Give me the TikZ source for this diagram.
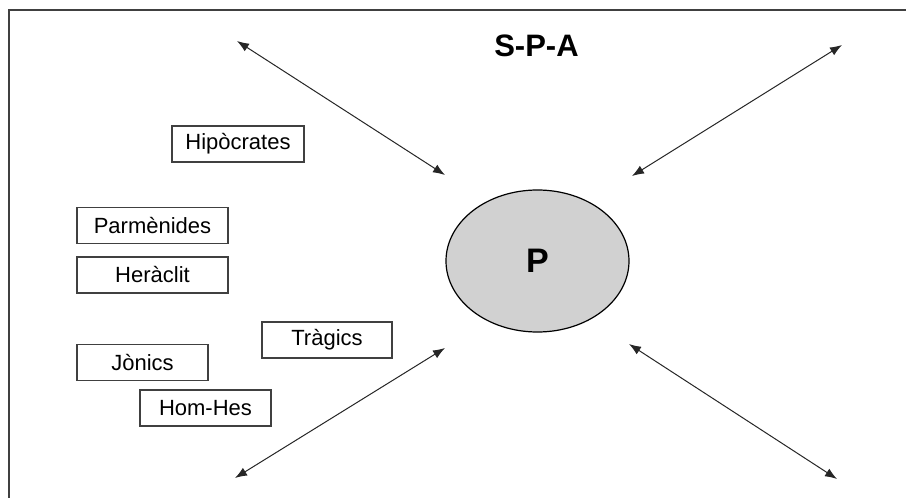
\documentclass[tikz,border=0pt]{standalone}
\usepackage{fontspec}
\setmainfont{Liberation Sans}
\usetikzlibrary{shapes.geometric,arrows.meta}

\begin{document}
\begin{tikzpicture}[x=0.5pt, y=-0.5pt,
    philbox/.style={draw=black!75, line width=0.6pt, minimum height=18pt, inner sep=0pt,
                    font=\fontsize{11}{13}\selectfont},
    bigtext/.style={font=\bfseries\fontsize{17}{20}\selectfont},
    twoway/.style={{Latex[length=6pt,width=4.5pt]}-{Latex[length=6pt,width=4.5pt]},
                   line width=0.5pt, black!85}]
    \useasboundingbox (0,0) rectangle (906,498);
    \draw[line width=1pt, black!75] (9,498) -- (9,10) -- (906,10);
    \node[bigtext, font=\bfseries\fontsize{15.5}{18}\selectfont] (title) at (536.5,46) {S-P-A};

    \node[ellipse, draw, line width=0.6pt, fill=black!18, minimum width=91.5pt, minimum height=71pt,
          inner sep=0pt, bigtext] (p) at (537.5,261) {P};

    % philosophers and poets
    \node[philbox, minimum width=66pt]   (hipocrates) at (238,144)   {Hipòcrates};
    \node[philbox, minimum width=75.5pt] (parmenides) at (152.5,225.5) {Parmènides};
    \node[philbox, minimum width=75.5pt] (heraclit)   at (152.5,275) {Heràclit};
    \node[philbox, minimum width=65pt]   (tragics)    at (327,340)   {Tràgics};
    \node[philbox, minimum width=65.5pt] (jonics)     at (142.5,362.5) {Jònics};
    \node[philbox, minimum width=65.5pt] (homhes)     at (205.5,408) {Hom-Hes};

    % arrow ends
    \coordinate (nw) at (237,41);   \coordinate (pnw) at (445,175);
    \coordinate (ne) at (842,45);   \coordinate (pne) at (632,176);
    \coordinate (sw) at (235,478);  \coordinate (psw) at (445,348);
    \coordinate (se) at (837,479);  \coordinate (pse) at (629,344);
    \draw[twoway] (nw) -- (pnw);
    \draw[twoway] (ne) -- (pne);
    \draw[twoway] (sw) -- (psw);
    \draw[twoway] (se) -- (pse);
\end{tikzpicture}
\end{document}
